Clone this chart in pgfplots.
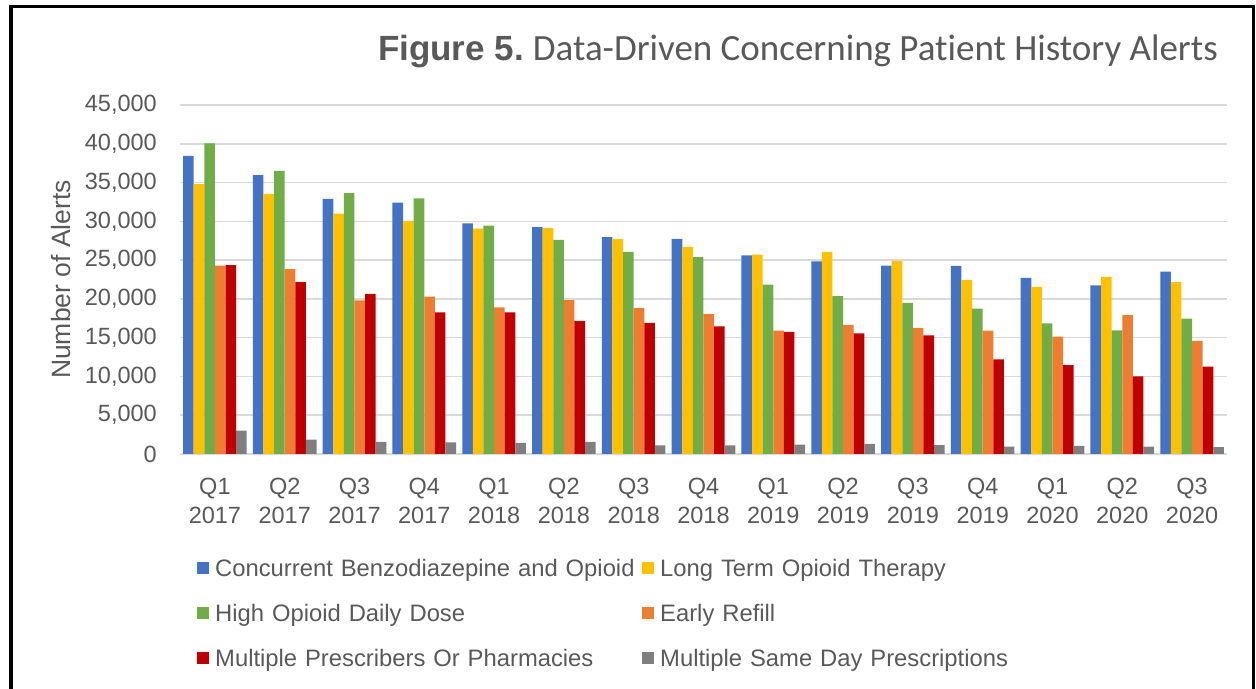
\documentclass[border=0pt]{standalone}
\usepackage{fontspec}
\setmainfont{Liberation Sans}
\newfontfamily\carlito[Ligatures=NoCommon]{Carlito}
\usepackage{pgfplots}
\usepackage{pgfplotstable}
\pgfplotsset{compat=1.18}
\definecolor{cblue}{HTML}{4472C4}
\definecolor{cyellow}{HTML}{FFC000}
\definecolor{cgreen}{HTML}{70AD47}
\definecolor{corange}{HTML}{ED7D31}
\definecolor{cred}{HTML}{C00000}
\definecolor{cgray}{HTML}{7F7F7F}
\definecolor{txtgray}{HTML}{595959}
\definecolor{gridgray}{HTML}{D9D9D9}

\pgfplotstableread{
x cb lt hd er mp ms
0 38450 34800 40050 24300 24350 3000
1 35950 33550 36500 23850 22150 1850
2 32900 31000 33650 19800 20650 1550
3 32400 30050 32950 20300 18250 1500
4 29750 29050 29450 18900 18250 1450
5 29250 29150 27600 19850 17150 1550
6 27950 27700 26050 18800 16900 1100
7 27750 26700 25400 18050 16450 1100
8 25600 25700 21850 15900 15750 1200
9 24850 26050 20350 16650 15550 1300
10 24300 24900 19500 16250 15300 1150
11 24250 22450 18750 15900 12200 950
12 22700 21550 16850 15150 11450 1050
13 21750 22850 15950 17900 10000 950
14 23500 22150 17450 14600 11250 900
}\datatable

\begin{document}
\begin{tikzpicture}
\useasboundingbox (0,0) rectangle (1256bp,689bp);
\begin{axis}[
  at={(180bp,235bp)}, anchor=south west,
  scale only axis, width=1047bp, height=349bp,
  xmin=-0.5, xmax=14.5, ymin=0, ymax=45000,
  ybar=0pt, bar width=10.6bp,
  xtick={0,...,14},
  xticklabels={{Q1\\2017},{Q2\\2017},{Q3\\2017},{Q4\\2017},{Q1\\2018},{Q2\\2018},{Q3\\2018},{Q4\\2018},{Q1\\2019},{Q2\\2019},{Q3\\2019},{Q4\\2019},{Q1\\2020},{Q2\\2020},{Q3\\2020}},
  ytick={0,5000,...,45000},
  scaled y ticks=false,
  /pgf/number format/assume math mode=true,
  /pgf/number format/1000 sep={,},
  axis line style={draw=none},
  major tick length=0pt,
  ymajorgrids, grid style={draw=gridgray, line width=1.5bp},
  tick label style={font=\fontsize{23.5bp}{29bp}\selectfont, text=txtgray},
  yticklabel style={anchor=east, inner sep=0pt, xshift=-23bp},
  xticklabel style={align=center, anchor=north, inner sep=0pt, yshift=-23.5bp},
  ylabel={Number of Alerts},
  every axis y label/.style={at={(axis description cs:-0.11366,0.5)}, rotate=90, anchor=center, font=\fontsize{26.5bp}{30bp}\selectfont, text=txtgray},
  legend columns=2, legend cell align=left,
  legend style={draw=none, fill=none, at={(axis description cs:0.01624,-0.3009)}, anchor=north west, inner sep=0pt, column sep=0pt, row sep=23bp, font=\fontsize{23.8bp}{28bp}\selectfont, nodes={inner sep=0pt, text=txtgray, text width=427bp, text height=17bp, text depth=5bp}},
  legend image code/.code={\path[#1, draw=none] (0bp,-3.5bp) rectangle (12bp,8.5bp); \path (18bp,0bp);},
]
\addplot[fill=cblue, draw=none] table[x=x, y=cb] {\datatable};
\addlegendentry{Concurrent Benzodiazepine and Opioid}
\addplot[fill=cyellow, draw=none] table[x=x, y=lt] {\datatable};
\addlegendentry{Long Term Opioid Therapy}
\addplot[fill=cgreen, draw=none] table[x=x, y=hd] {\datatable};
\addlegendentry{High Opioid Daily Dose}
\addplot[fill=corange, draw=none] table[x=x, y=er] {\datatable};
\addlegendentry{Early Refill}
\addplot[fill=cred, draw=none] table[x=x, y=mp] {\datatable};
\addlegendentry{Multiple Prescribers Or Pharmacies}
\addplot[fill=cgray, draw=none] table[x=x, y=ms] {\datatable};
\addlegendentry{Multiple Same Day Prescriptions}
\end{axis}
\node[anchor=base east, text=txtgray, inner sep=0pt] at (1218bp,628bp) {{\fontsize{35bp}{38bp}\selectfont\bfseries Figure 5.}\hspace{9bp}{\carlito\fontsize{37bp}{40bp}\selectfont Data-Driven Concerning Patient History Alerts}};
\draw[line width=4bp] (11bp,0) -- (11bp,682.5bp);
\draw[line width=3bp] (9bp,682.5bp) -- (1255bp,682.5bp);
\draw[line width=3bp] (1253.5bp,0) -- (1253.5bp,684bp);
\end{tikzpicture}
\end{document}
